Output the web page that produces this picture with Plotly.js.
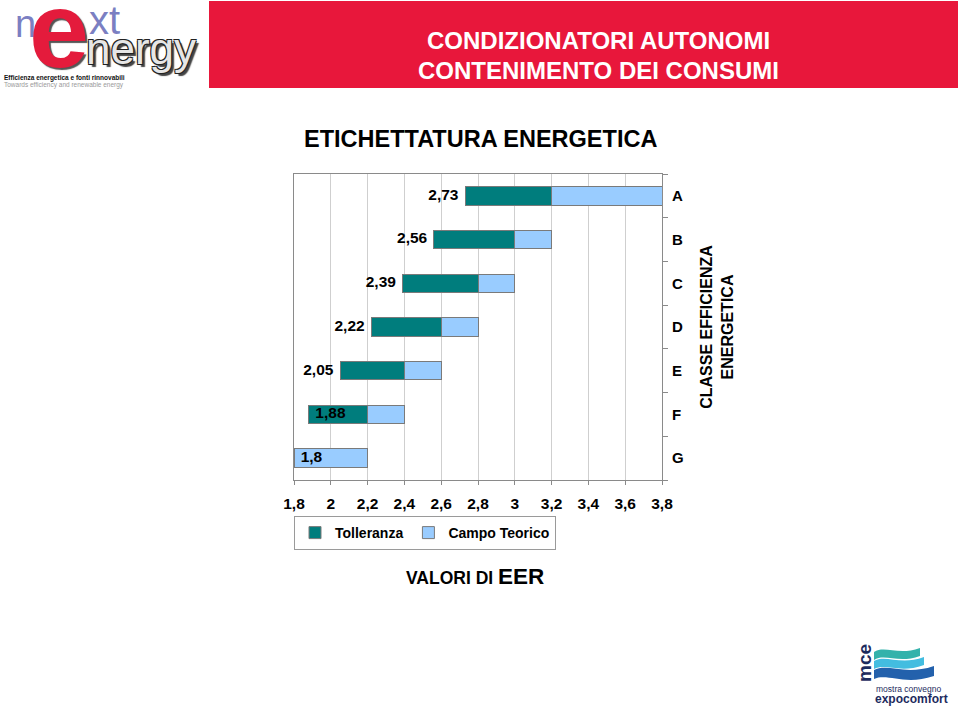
<!DOCTYPE html>
<html>
<head>
<meta charset="utf-8">
<script src="https://cdn.plot.ly/plotly-3.0.1.min.js"></script>
<style>
  html, body { margin: 0; padding: 0; background: #fff; }
  #chart { width: 960px; height: 708px; }
</style>
</head>
<body>
<div id="chart"></div>
<script>
// energy classes, bottom to top
var classes = ['G', 'F', 'E', 'D', 'C', 'B', 'A'];
// EER where each class starts (invisible base of the stack)
var startEER = [1.8, 1.88, 2.05, 2.22, 2.39, 2.56, 2.73];
// width of the two visible segments
var tolleranza = [0, 0.32, 0.35, 0.38, 0.41, 0.44, 0.47];
var campoTeorico = [0.4, 0.2, 0.2, 0.2, 0.2, 0.2, 0.6];
var startLabels = startEER.map(function(v) { return String(v).replace('.', ','); });
var labelSide = ['middle right', 'middle right', 'middle left', 'middle left', 'middle left', 'middle left', 'middle left'];

var FONT = 'Liberation Sans, Arial, sans-serif';
var TEAL = '#007d7d';
var LIGHT = '#99ccff';

// page pixel -> paper coords (plot area is 294..662 x 174..480)
function px(x) { return (x - 294) / 368; }
function py(y) { return (480 - y) / 306; }
function P(x, y) { return px(x) + ',' + py(y); }

var data = [
    {
        type: 'bar', orientation: 'h', y: classes, x: startEER,
        marker: {color: 'rgba(0,0,0,0)', line: {width: 0}},
        showlegend: false, hoverinfo: 'skip'
    },
    {
        type: 'bar', orientation: 'h', y: classes, x: tolleranza, name: 'Tolleranza',
        marker: {color: TEAL, line: {color: '#7a7a7a', width: 1}}
    },
    {
        type: 'bar', orientation: 'h', y: classes, x: campoTeorico, name: 'Campo Teorico',
        marker: {color: LIGHT, line: {color: '#7a7a7a', width: 1}}
    },
    {
        // start values written beside each bar; the clear marker only pads the text
        type: 'scatter', mode: 'markers+text', y: classes, x: startEER,
        marker: {size: 9, color: 'rgba(0,0,0,0)'},
        text: startLabels, textposition: labelSide,
        textfont: {family: FONT, size: 15.5, weight: 'bold', color: '#000'},
        cliponaxis: false, showlegend: false, hoverinfo: 'skip'
    }
];

var shapes = [
    // red banner
    {type: 'rect', xref: 'paper', yref: 'paper', x0: px(209), x1: px(958), y0: py(1), y1: py(88),
     fillcolor: '#e8173b', line: {width: 0}, layer: 'below'},
    // mce waves
    {type: 'path', xref: 'paper', yref: 'paper', fillcolor: '#33b2ab', line: {width: 0},
     path: 'M' + P(874, 652) + ' C' + P(885, 645) + ' ' + P(898, 656) + ' ' + P(920, 648) +
           ' L' + P(920, 656) + ' C' + P(898, 664) + ' ' + P(885, 653) + ' ' + P(874, 660) + ' Z'},
    {type: 'path', xref: 'paper', yref: 'paper', fillcolor: '#43bde0', line: {width: 0},
     path: 'M' + P(874, 661) + ' C' + P(886, 654) + ' ' + P(900, 666) + ' ' + P(924, 657) +
           ' L' + P(924, 665) + ' C' + P(900, 674) + ' ' + P(886, 663) + ' ' + P(874, 669) + ' Z'},
    {type: 'path', xref: 'paper', yref: 'paper', fillcolor: '#2361ac', line: {width: 0},
     path: 'M' + P(874, 670) + ' C' + P(888, 663) + ' ' + P(905, 676) + ' ' + P(934, 666) +
           ' L' + P(934, 676) + ' C' + P(905, 686) + ' ' + P(888, 673) + ' ' + P(874, 679) + ' Z'}
];

function note(text, x, y, opts) {
    var a = {
        text: text, x: px(x), y: py(y), xref: 'paper', yref: 'paper',
        showarrow: false, xanchor: 'center', yanchor: 'middle', borderpad: 0,
        font: {family: FONT, size: 15, color: '#000'}
    };
    for (var k in opts) a[k] = opts[k];
    return a;
}

var annotations = [
    // banner + headings
    note('CONDIZIONATORI AUTONOMI', 598, 40, {font: {family: FONT, size: 24, weight: 'bold', color: '#fff'}}),
    note('CONTENIMENTO DEI CONSUMI', 598, 70, {font: {family: FONT, size: 24, weight: 'bold', color: '#fff'}}),
    note('ETICHETTATURA ENERGETICA', 480, 139, {font: {family: FONT, size: 23.5, weight: 'bold', color: '#000'}}),
    note('VALORI DI <span style="font-size:22.5px">EER</span>', 475, 576,
         {font: {family: FONT, size: 17.5, weight: 'bold', color: '#000'}}),
    // next energy logo
    note('n', 25, 24, {font: {family: FONT, size: 38, color: '#7b7fc2'}}),
    note('xt', 104, 20, {font: {family: FONT, size: 40, color: '#7b7fc2'}}),
    note('nergy', 141, 49, {font: {family: FONT, size: 44, color: '#e6e6e6',
         shadow: '1px 1px 0 #222, -1px -1px 0 #222, 1px -1px 0 #222, -1px 1px 0 #222, 3px 3px 1px #444'}}),
    note('e', 59, 30, {font: {family: FONT, size: 108, weight: 'bold', color: '#e41b3c',
         shadow: '2px 2px 1px #555'}}),
    note('Efficienza energetica e fonti rinnovabili', 3, 78,
         {xanchor: 'left', font: {family: FONT, size: 6.5, weight: 'bold', color: '#111'}}),
    note('Towards efficiency and renewable energy', 3, 85,
         {xanchor: 'left', font: {family: FONT, size: 6.5, color: '#9a9a9a'}}),
    // mce logo
    note('mce', 864, 663, {textangle: -90, font: {family: FONT, size: 19, weight: 'bold', color: '#1d2b5e'}}),
    note('mostra convegno', 875, 689, {xanchor: 'left', font: {family: FONT, size: 8.5, color: '#1d2b5e'}}),
    note('expocomfort', 874, 699, {xanchor: 'left', font: {family: FONT, size: 12, weight: 'bold', color: '#1d2b5e'}})
];

var layout = {
    width: 960, height: 708, autosize: false,
    margin: {l: 294, r: 298, t: 174, b: 228, pad: 0},
    paper_bgcolor: '#fff', plot_bgcolor: '#fff',
    separators: ', ',
    barmode: 'stack', bargap: 0.58,
    font: {family: FONT, color: '#000'},
    xaxis: {
        range: [1.8, 3.8], tick0: 1.8, dtick: 0.2, fixedrange: true,
        showgrid: true, gridcolor: '#cfcfcf', gridwidth: 1, zeroline: false,
        showline: true, linecolor: '#8a8a8a', linewidth: 1, mirror: true,
        ticks: 'outside', ticklen: 4, tickcolor: '#8a8a8a', ticklabelstandoff: 5,
        tickfont: {family: FONT, size: 15.5, weight: 'bold', color: '#000'}
    },
    yaxis: {
        type: 'category', side: 'right', fixedrange: true,
        showgrid: false, zeroline: false,
        showline: true, linecolor: '#8a8a8a', linewidth: 1, mirror: true,
        ticks: 'outside', ticklen: 5, tickcolor: '#8a8a8a', tickson: 'boundaries',
        ticklabelstandoff: 6,
        tickfont: {family: FONT, size: 15, weight: 'bold', color: '#000'},
        title: {text: 'CLASSE EFFICIENZA<br>ENERGETICA', standoff: 18,
                font: {family: FONT, size: 16, weight: 'bold', color: '#000'}}
    },
    legend: {
        orientation: 'h', x: 0, xanchor: 'left', y: py(516), yanchor: 'top',
        traceorder: 'normal',
        bordercolor: '#9a9a9a', borderwidth: 1, bgcolor: '#fff',
        font: {family: FONT, size: 14, weight: 'bold', color: '#000'},
        itemwidth: 30, tracegroupgap: 0
    },
    shapes: shapes,
    annotations: annotations
};

Plotly.newPlot('chart', data, layout, {displayModeBar: false, staticPlot: true});
</script>
</body>
</html>
